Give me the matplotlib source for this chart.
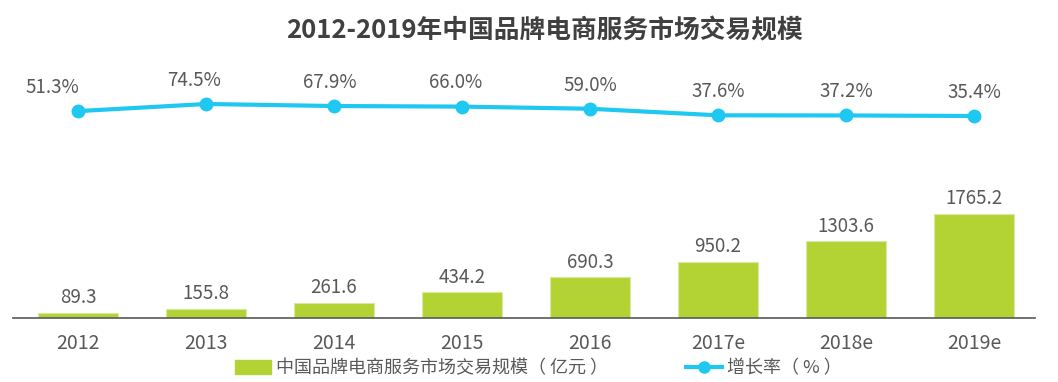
import matplotlib.pyplot as plt
import numpy as np
from matplotlib.patches import Patch
from matplotlib.lines import Line2D

plt.rcParams['font.family'] = ['Noto Sans CJK SC', 'DejaVu Sans']

# 数据
years = ['2012', '2013', '2014', '2015', '2016', '2017e', '2018e', '2019e']
scale = [89.3, 155.8, 261.6, 434.2, 690.3, 950.2, 1303.6, 1765.2]
growth = [51.3, 74.5, 67.9, 66.0, 59.0, 37.6, 37.2, 35.4]

bar_color = '#B3D335'
line_color = '#1EC8F0'
text_color = '#595959'

# 百分比标签的水平偏移（像素换算成x单位）
label_dx = [-0.2, -0.09, -0.03, -0.05, 0, 0, 0, 0]

fig = plt.figure(figsize=(10.58, 3.82), dpi=100)
ax = fig.add_axes([13 / 1058, 64 / 382, 1022 / 1058, 258 / 382])
x = np.arange(len(years))

# 柱状图
ax.bar(x, scale, width=0.62, color=bar_color, edgecolor='#D8EAA0', linewidth=0.8, zorder=2)
for xi, v in zip(x, scale):
    ax.text(xi, v + 80, f'{v:.1f}', ha='center', va='bottom', fontsize=13.5, color=text_color)

ax.set_xlim(-0.508, 7.477)
ax.set_ylim(0, 4380)
ax.set_yticks([])
ax.set_xticks(x)
ax.set_xticklabels(years, fontsize=14, color=text_color)
ax.tick_params(axis='x', length=0, pad=11)
for s in ['top', 'right', 'left']:
    ax.spines[s].set_visible(False)
ax.spines['bottom'].set_color('#595959')
ax.spines['bottom'].set_linewidth(1.2)

# 增长率折线
ax2 = ax.twinx()
ax2.plot(x, growth, color=line_color, linewidth=3, marker='o', markersize=9, zorder=3)
for xi, v, dx in zip(x, growth, label_dx):
    ax2.text(xi + dx, v + 43, f'{v:.1f}%', ha='center', va='bottom',
             fontsize=13.5, color=text_color)
ax2.set_ylim(-622.6, 217.8)
ax2.set_yticks([])
for s in ['top', 'right', 'left', 'bottom']:
    ax2.spines[s].set_visible(False)

# 标题
fig.text(0.515, 0.92, '2012-2019年中国品牌电商服务市场交易规模', ha='center', va='center',
         fontsize=18.5, fontweight='bold', color='#404040')

# 图例
handles = [Patch(facecolor=bar_color, edgecolor=bar_color),
           Line2D([0], [0], color=line_color, linewidth=3, marker='o', markersize=8)]
labels = ['中国品牌电商服务市场交易规模（ 亿元 ）', '增长率（ % ）']
leg = fig.legend(handles, labels, loc='center', bbox_to_anchor=(0.509, 0.036), ncol=2,
                 frameon=False, fontsize=13, handlelength=2.0, handleheight=0.8,
                 columnspacing=4.3, handletextpad=0.3)
for t in leg.get_texts():
    t.set_color(text_color)

fig.savefig('out.png', dpi=100)
